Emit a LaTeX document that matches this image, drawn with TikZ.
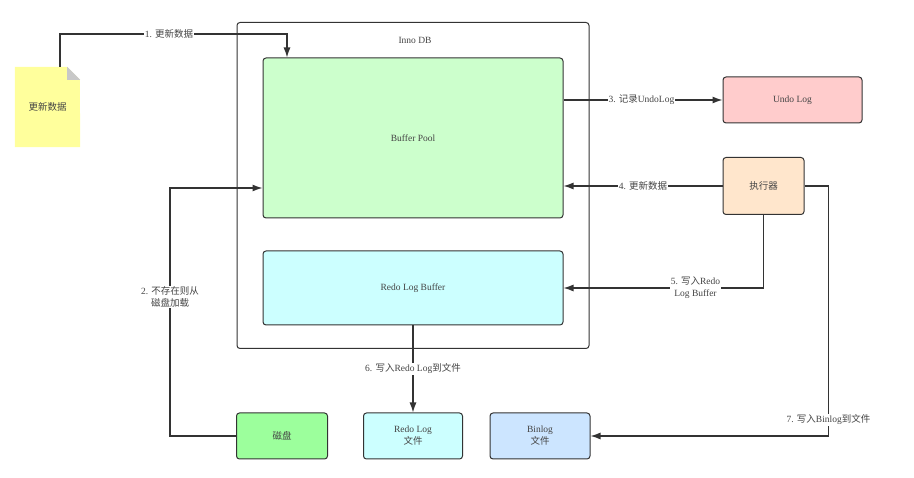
\documentclass[tikz,border=0pt]{standalone}
\usepackage{fontspec}
\setmainfont{Liberation Serif}
\newfontfamily\cjk{Noto Sans CJK SC}
\usetikzlibrary{arrows.meta,backgrounds}
\definecolor{docyellow}{HTML}{FFFF9C}
\definecolor{foldgray}{HTML}{C8C8C8}
\definecolor{poolgreen}{HTML}{CCFFCC}
\definecolor{redocyan}{HTML}{CCFFFF}
\definecolor{undopink}{HTML}{FFCCCC}
\definecolor{execorange}{HTML}{FFE6CC}
\definecolor{diskgreen}{HTML}{9CFF9C}
\definecolor{binblue}{HTML}{CCE5FF}
\definecolor{linegray}{HTML}{333333}
\definecolor{textgray}{HTML}{444444}

\begin{document}
\begin{tikzpicture}[x=1pt,y=-1pt,font=\fontsize{9.5}{12}\selectfont]
\tikzstyle{box}=[draw=linegray,line width=1pt,rounded corners=3pt,align=center,text=textgray]
\tikzstyle{flow}=[draw=linegray,line width=1.3pt,-{Latex[length=10pt,width=7pt]}]
\tikzstyle{lbl}=[fill=white,inner sep=1pt,align=center,text=textgray]

\useasboundingbox (0,0) rectangle (914,478);

\node[box,minimum width=352pt,minimum height=326pt] (innodb) at (413,185.5) {};
\node[text=textgray] (innodbtitle) at (415,40) {Inno DB};
\node[box,fill=poolgreen,minimum width=300pt,minimum height=160pt] (pool) at (413,138) {Buffer Pool};
\node[box,fill=redocyan,minimum width=300pt,minimum height=74pt] (redobuf) at (413,288) {Redo Log Buffer};

\node[box,fill=undopink,minimum width=139pt,minimum height=46pt] (undo) at (792.5,100) {Undo Log};
\node[box,fill=execorange,minimum width=81pt,minimum height=57pt] (exec) at (763.5,186) {\cjk 执行器};

\node[box,fill=diskgreen,minimum width=91pt,minimum height=46pt] (disk) at (282,436) {\cjk 磁盘};
\node[box,fill=redocyan,minimum width=99pt,minimum height=46pt] (redofile) at (413,436) {Redo Log\\{\cjk 文件}};
\node[box,fill=binblue,minimum width=100pt,minimum height=46pt] (binfile) at (540,436) {Binlog\\{\cjk 文件}};

% document with folded corner
\node[minimum width=65pt,minimum height=80pt,text=textgray] (doc) at (47.5,107) {\cjk 更新数据};
\begin{scope}[on background layer]
\fill[docyellow] (doc.north west) -- ++(52,0) -- ++(13,13) -- (doc.south east) -- (doc.south west) -- cycle;
\fill[foldgray] ([xshift=-13pt]doc.north east) -- ++(13,13) -- ++(-13,0) -- cycle;
\end{scope}

\coordinate (up1) at (287,34);
\coordinate (left2) at (170,188);
\draw[flow] ([xshift=12.5pt]doc.north) |- node[lbl,pos=0.74]{1. {\cjk 更新数据}} (up1) -- (up1 |- pool.north);
\draw[flow] (disk.west) -| node[lbl,pos=0.78]{2. {\cjk 不存在则从}\\{\cjk 磁盘加载}} (left2) -- (left2 -| pool.west);
\draw[flow] (pool.east |- undo.west) -- node[lbl,pos=0.49]{3. {\cjk 记录}UndoLog} (undo.west);
\draw[flow] (exec.west) -- node[lbl,pos=0.5]{4. {\cjk 更新数据}} (exec.west -| pool.east);
\draw[flow] (exec.south) |- node[lbl,pos=0.67]{5. {\cjk 写入}Redo\\Log Buffer} (redobuf.east);
\draw[flow] (redobuf.south) -- node[lbl]{6. {\cjk 写入}Redo Log{\cjk 到文件}} (redofile.north);
\draw[flow] (exec.east) -- ++(24,0) |- node[lbl,pos=0.468]{7. {\cjk 写入}Binlog{\cjk 到文件}} (binfile.east);

\end{tikzpicture}
\end{document}
